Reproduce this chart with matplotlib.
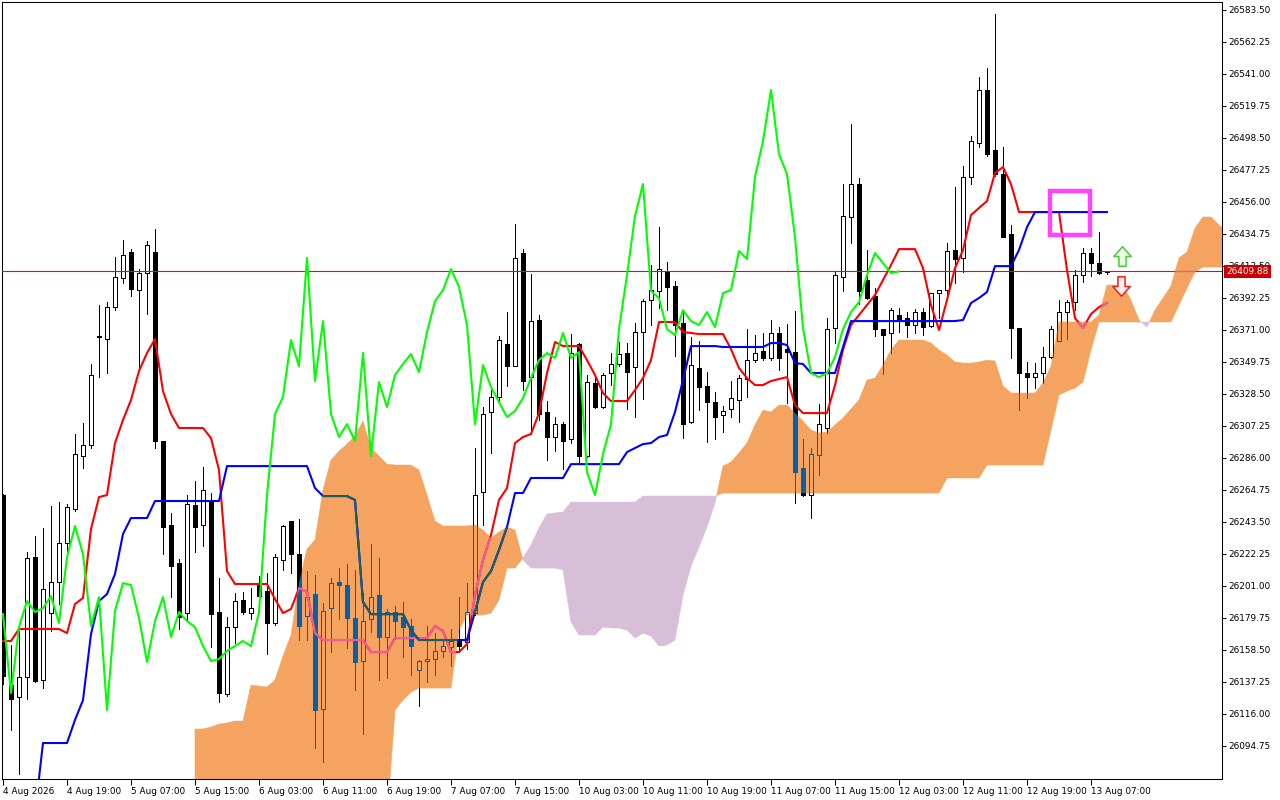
import numpy as np
import matplotlib
matplotlib.use("Agg")
import matplotlib.pyplot as plt
from matplotlib.collections import LineCollection, PolyCollection
from matplotlib.path import Path
from matplotlib.patches import Rectangle
from matplotlib.colors import to_rgba

plt.rcParams['font.family'] = ['DejaVu Sans']

# ---------------- data ----------------
x_labels = ["4 Aug 2026", "4 Aug 19:00", "5 Aug 07:00", "5 Aug 15:00", "6 Aug 03:00",
            "6 Aug 11:00", "6 Aug 19:00", "7 Aug 07:00", "7 Aug 15:00", "10 Aug 03:00",
            "10 Aug 11:00", "10 Aug 19:00", "11 Aug 07:00", "11 Aug 15:00", "12 Aug 03:00",
            "12 Aug 11:00", "12 Aug 19:00", "13 Aug 07:00"]

y_tick_values = [26583.50, 26562.25, 26541.00, 26519.75, 26498.50, 26477.25, 26456.00,
                 26434.75, 26413.50, 26392.25, 26371.00, 26349.75, 26328.50, 26307.25,
                 26286.00, 26264.75, 26243.50, 26222.25, 26201.00, 26179.75, 26158.50,
                 26137.25, 26116.00, 26094.75]

opens = [
    26261.4, 26135.2, 26127.2, 26140.5, 26220.2, 26138.5, 26183.0, 26203.6, 26229.5, 26252.1,
    26287.3, 26294.6, 26366.3, 26365.0, 26386.2, 26405.5, 26422.7, 26397.5, 26408.8, 26422.7,
    26297.2, 26241.5, 26216.2, 26183.0, 26254.7, 26241.5, 26256.7, 26183.7, 26129.2, 26173.7,
    26191.6, 26183.0, 26201.6, 26197.6, 26176.4, 26218.2, 26244.1, 26222.2, 26181.0, 26195.6,
    26119.3, 26186.3, 26203.6, 26201.6, 26179.7, 26151.1, 26179.0, 26195.0, 26167.1, 26183.7,
    26180.4, 26174.4, 26145.2, 26151.1, 26152.5, 26157.8, 26160.4, 26164.4, 26163.8, 26183.0,
    26263.4, 26316.5, 26326.5, 26361.7, 26347.0, 26422.1, 26339.7, 26377.6, 26316.5, 26299.9,
    26308.5, 26298.6, 26361.7, 26287.3, 26335.8, 26319.8, 26342.4, 26348.4, 26355.7, 26346.4,
    26369.6, 26390.9, 26396.9, 26410.1, 26400.2, 26375.6, 26309.8, 26345.7, 26333.8, 26323.1,
    26314.5, 26318.5, 26324.5, 26338.4, 26351.0, 26357.0, 26352.4, 26369.0, 26358.3, 26356.3,
    26279.3, 26261.4, 26287.9, 26305.9, 26372.3, 26406.1, 26446.0, 26467.9, 26404.5, 26393.5,
    26371.6, 26368.9, 26380.9, 26378.9, 26374.3, 26382.9, 26373.6, 26395.5, 26397.5, 26424.1,
    26418.8, 26472.6, 26495.1, 26530.3, 26490.5, 26474.5, 26434.7, 26372.3, 26342.4, 26339.7,
    26342.4, 26353.0, 26363.6, 26382.9, 26389.5, 26407.5, 26422.1, 26415.4, 26409.5]

highs = [
    26262.1, 26161.8, 26171.1, 26223.5, 26234.2, 26239.5, 26254.1, 26256.7, 26255.4, 26301.9,
    26309.2, 26348.4, 26387.6, 26389.5, 26419.4, 26430.7, 26424.7, 26411.5, 26430.0, 26438.0,
    26297.2, 26249.4, 26218.9, 26261.4, 26270.7, 26279.9, 26262.7, 26206.3, 26180.4, 26196.3,
    26196.9, 26199.6, 26207.6, 26209.6, 26222.2, 26241.5, 26244.1, 26245.4, 26210.9, 26208.2,
    26189.6, 26206.3, 26212.9, 26215.5, 26211.6, 26196.3, 26228.8, 26219.5, 26185.7, 26187.7,
    26190.3, 26179.0, 26151.6, 26174.4, 26169.7, 26165.7, 26172.4, 26193.6, 26202.9, 26292.6,
    26319.8, 26331.1, 26367.0, 26382.9, 26441.3, 26424.7, 26408.1, 26380.9, 26323.8, 26313.2,
    26309.8, 26368.3, 26362.3, 26341.1, 26341.1, 26342.4, 26355.7, 26363.0, 26362.3, 26375.6,
    26391.5, 26414.1, 26439.3, 26416.1, 26403.5, 26382.9, 26366.3, 26363.6, 26343.1, 26329.8,
    26320.5, 26337.1, 26341.1, 26371.6, 26367.6, 26369.0, 26377.6, 26372.9, 26374.9, 26383.6,
    26298.6, 26292.6, 26321.8, 26378.9, 26410.1, 26467.9, 26507.8, 26471.9, 26424.1, 26398.9,
    26371.6, 26385.6, 26385.6, 26382.9, 26384.9, 26385.6, 26395.5, 26397.5, 26428.7, 26465.9,
    26479.9, 26499.8, 26539.0, 26544.9, 26580.8, 26492.5, 26440.7, 26372.3, 26349.7, 26349.0,
    26359.7, 26373.6, 26390.9, 26390.9, 26410.8, 26425.4, 26425.4, 26436.0, 26410.1]

lows = [
    26135.9, 26105.3, 26076.1, 26125.9, 26137.2, 26133.2, 26171.1, 26189.0, 26223.5, 26250.8,
    26279.3, 26292.6, 26339.8, 26342.4, 26384.2, 26402.2, 26393.5, 26343.7, 26381.6, 26292.6,
    26222.2, 26193.6, 26172.4, 26178.4, 26223.5, 26227.5, 26160.4, 26123.9, 26127.9, 26163.1,
    26182.3, 26179.0, 26187.0, 26155.8, 26175.0, 26211.6, 26209.6, 26165.1, 26165.1, 26093.4,
    26084.1, 26157.1, 26179.0, 26159.8, 26131.9, 26102.7, 26170.4, 26138.5, 26139.9, 26165.7,
    26153.8, 26141.8, 26121.2, 26137.2, 26141.8, 26153.8, 26147.8, 26157.1, 26159.1, 26181.7,
    26241.5, 26289.3, 26324.5, 26333.8, 26347.0, 26331.1, 26301.9, 26311.2, 26284.6, 26290.6,
    26278.6, 26295.9, 26283.3, 26286.6, 26319.2, 26319.2, 26334.4, 26347.0, 26318.5, 26313.2,
    26325.1, 26374.3, 26385.6, 26384.2, 26353.7, 26299.2, 26309.2, 26317.8, 26296.6, 26298.6,
    26303.2, 26313.2, 26309.8, 26326.5, 26349.7, 26351.0, 26351.0, 26344.4, 26322.5, 26256.1,
    26260.7, 26246.1, 26274.7, 26302.5, 26362.3, 26396.9, 26428.7, 26388.2, 26391.5, 26367.0,
    26341.7, 26355.7, 26369.6, 26366.3, 26369.0, 26367.6, 26372.9, 26378.9, 26392.9, 26402.2,
    26409.5, 26467.9, 26492.5, 26486.5, 26473.2, 26432.7, 26352.4, 26317.8, 26325.8, 26332.4,
    26335.8, 26352.4, 26363.6, 26365.0, 26384.2, 26402.8, 26406.8, 26408.1, 26408.1]

closes = [
    26141.2, 26125.9, 26140.5, 26219.5, 26137.9, 26198.9, 26203.6, 26229.5, 26253.4, 26288.6,
    26294.6, 26341.1, 26367.0, 26386.2, 26406.1, 26420.8, 26398.2, 26408.8, 26427.4, 26297.2,
    26240.1, 26214.2, 26180.4, 26255.4, 26240.1, 26264.7, 26182.3, 26129.9, 26173.7, 26191.0,
    26183.7, 26186.3, 26194.3, 26176.4, 26220.2, 26240.8, 26222.2, 26174.4, 26193.6, 26118.6,
    26184.3, 26202.9, 26201.6, 26179.7, 26150.5, 26177.7, 26193.6, 26167.1, 26183.7, 26177.7,
    26173.7, 26161.1, 26151.1, 26152.5, 26157.8, 26161.1, 26164.4, 26161.1, 26183.7, 26261.4,
    26315.2, 26326.5, 26364.3, 26347.0, 26418.8, 26337.1, 26376.9, 26315.2, 26299.9, 26308.5,
    26297.2, 26355.7, 26287.3, 26336.4, 26319.8, 26341.1, 26348.4, 26355.0, 26343.1, 26369.6,
    26390.2, 26397.5, 26411.5, 26399.5, 26374.3, 26308.5, 26347.7, 26333.1, 26323.1, 26313.2,
    26317.2, 26325.8, 26339.1, 26351.0, 26355.7, 26352.4, 26369.0, 26352.4, 26356.3, 26276.6,
    26261.4, 26288.6, 26308.5, 26371.6, 26407.5, 26446.7, 26467.9, 26396.9, 26392.2, 26371.6,
    26367.6, 26384.2, 26376.9, 26374.3, 26382.9, 26372.9, 26395.5, 26397.5, 26423.4, 26418.1,
    26472.6, 26496.5, 26530.3, 26487.8, 26474.5, 26432.7, 26372.3, 26342.4, 26339.7, 26342.4,
    26353.0, 26371.6, 26382.9, 26389.5, 26407.5, 26422.1, 26415.4, 26408.8, 26409.88]

tenkan = [
    26164.4, 26164.4, 26172.4, 26172.4, 26172.4, 26172.4, 26172.4, 26172.4, 26169.7, 26189.0,
    26193.0, 26238.8, 26260.0, 26261.4, 26295.9, 26311.2, 26324.5, 26343.7, 26355.7, 26365.0,
    26330.4, 26315.2, 26305.9, 26305.9, 26305.9, 26305.9, 26299.2, 26278.0, 26210.9, 26202.3,
    26202.3, 26202.3, 26202.3, 26202.3, 26192.3, 26183.0, 26185.7, 26199.6, 26197.0, 26169.7,
    26165.1, 26165.1, 26165.1, 26165.1, 26165.1, 26165.1, 26157.1, 26157.1, 26157.1, 26166.4,
    26166.4, 26166.4, 26166.4, 26166.4, 26174.4, 26171.1, 26157.1, 26157.1, 26162.4, 26195.0,
    26218.2, 26234.8, 26258.1, 26266.0, 26295.9, 26299.9, 26301.9, 26315.8, 26342.4, 26363.0,
    26360.3, 26360.3, 26360.3, 26351.0, 26341.1, 26329.1, 26323.8, 26323.8, 26323.8, 26331.1,
    26339.1, 26351.0, 26376.3, 26376.3, 26376.3, 26369.6, 26369.0, 26368.3, 26368.3, 26368.3,
    26368.3, 26358.3, 26345.7, 26339.1, 26334.4, 26334.4, 26337.1, 26338.4, 26339.7, 26321.1,
    26315.8, 26315.8, 26315.8, 26315.8, 26334.4, 26357.7, 26374.3, 26380.9, 26387.6, 26394.2,
    26404.2, 26414.1, 26424.7, 26424.7, 26424.7, 26412.1, 26387.6, 26371.0, 26390.9, 26412.1,
    26424.1, 26447.3, 26452.0, 26456.6, 26475.2, 26479.2, 26467.9, 26449.3, 26449.3, 26449.3,
    26449.3, 26449.3, 26449.3, 26410.8, 26378.9, 26372.3, 26381.6, 26386.2, 26388.9]

kijun = [
    26050.2, 26050.2, 26050.2, 26050.2, 26050.2, 26096.7, 26096.7, 26096.7, 26096.7, 26112.0,
    26125.2, 26169.1, 26191.0, 26195.6, 26208.9, 26235.5, 26246.1, 26246.1, 26246.1, 26257.4,
    26257.4, 26257.4, 26257.4, 26257.4, 26257.4, 26257.4, 26257.4, 26257.4, 26280.6, 26280.6,
    26280.6, 26280.6, 26280.6, 26280.6, 26280.6, 26280.6, 26280.6, 26280.6, 26280.6, 26266.0,
    26260.7, 26260.7, 26260.7, 26260.7, 26258.1, 26190.3, 26182.3, 26182.3, 26182.3, 26182.3,
    26182.3, 26171.7, 26165.1, 26165.1, 26165.1, 26165.1, 26165.1, 26165.1, 26165.1, 26183.7,
    26203.6, 26210.9, 26224.9, 26240.1, 26262.7, 26262.7, 26272.7, 26272.7, 26272.7, 26272.7,
    26272.7, 26281.9, 26281.9, 26281.9, 26281.9, 26281.9, 26281.9, 26281.9, 26289.9, 26292.6,
    26295.2, 26295.9, 26299.9, 26301.2, 26316.5, 26337.7, 26360.3, 26360.3, 26360.3, 26360.3,
    26359.7, 26359.7, 26359.7, 26359.7, 26359.7, 26359.7, 26362.3, 26362.3, 26361.0, 26349.0,
    26348.4, 26342.4, 26342.4, 26342.4, 26342.4, 26359.7, 26376.9, 26376.9, 26376.9, 26376.9,
    26376.9, 26376.9, 26376.9, 26376.9, 26376.9, 26376.9, 26376.9, 26376.9, 26376.9, 26376.9,
    26377.6, 26388.9, 26392.2, 26396.2, 26413.4, 26413.4, 26413.4, 26424.1, 26439.3, 26449.3,
    26449.3, 26449.3, 26449.3, 26449.3, 26449.3, 26449.3, 26449.3, 26449.3, 26449.3]

cloud_start_bar = 24
span_a = [
    26106.0, 26106.0, 26107.3, 26109.3, 26110.0, 26111.3, 26111.3, 26135.2, 26134.5, 26133.9,
    26138.5, 26154.5, 26168.4, 26202.9, 26225.5, 26231.5, 26264.7, 26284.6, 26290.6, 26295.2,
    26300.6, 26310.5, 26292.6, 26287.3, 26281.9, 26281.3, 26281.3, 26281.3, 26278.0, 26261.4,
    26244.1, 26240.8, 26240.8, 26240.8, 26240.8, 26241.5, 26238.1, 26232.8, 26236.8, 26240.1,
    26238.1, 26218.2, 26212.9, 26212.9, 26212.9, 26212.9, 26211.6, 26177.0, 26168.4, 26168.4,
    26168.4, 26173.7, 26173.1, 26173.1, 26171.7, 26166.4, 26169.7, 26167.7, 26161.1, 26161.8,
    26165.1, 26195.0, 26214.2, 26226.8, 26240.1, 26256.1, 26280.6, 26283.3, 26289.3, 26295.9,
    26307.9, 26317.8, 26316.5, 26321.1, 26321.1, 26315.8, 26310.5, 26304.5, 26302.5, 26303.2,
    26307.9, 26312.5, 26318.5, 26324.5, 26337.7, 26339.1, 26347.7, 26357.7, 26364.3, 26364.3,
    26364.3, 26364.3, 26362.3, 26357.7, 26354.4, 26349.7, 26349.0, 26349.0, 26349.7, 26351.0,
    26350.4, 26333.8, 26329.1, 26329.1, 26329.1, 26329.1, 26335.8, 26347.0, 26376.3, 26376.3,
    26376.3, 26376.3, 26376.3, 26380.9, 26400.8, 26400.8, 26400.2, 26390.9, 26377.6, 26372.9,
    26384.2, 26392.2, 26400.2, 26418.8, 26422.7, 26438.7, 26446.0, 26446.0, 26440.7, 26436.0]

span_b = [
    26045.6, 26045.6, 26045.6, 26045.6, 26045.6, 26045.6, 26045.6, 26045.6, 26045.6, 26045.6,
    26045.6, 26045.6, 26045.6, 26045.6, 26045.6, 26045.6, 26045.6, 26045.6, 26045.6, 26045.6,
    26045.6, 26045.6, 26045.6, 26045.6, 26045.6, 26118.6, 26125.2, 26130.5, 26133.2, 26133.2,
    26133.2, 26133.2, 26133.2, 26171.7, 26181.7, 26181.7, 26181.7, 26183.0, 26191.6, 26212.9,
    26212.9, 26219.5, 26228.2, 26239.5, 26248.8, 26249.4, 26250.1, 26256.7, 26256.7, 26256.7,
    26256.7, 26256.7, 26256.7, 26256.7, 26256.7, 26256.7, 26260.7, 26260.7, 26260.7, 26260.7,
    26260.7, 26260.7, 26260.7, 26260.7, 26260.7, 26260.7, 26262.7, 26262.7, 26262.7, 26262.7,
    26262.7, 26262.7, 26262.7, 26262.7, 26262.7, 26262.7, 26262.7, 26262.7, 26262.7, 26262.7,
    26262.7, 26262.7, 26262.7, 26262.7, 26262.7, 26262.7, 26262.7, 26262.7, 26262.7, 26262.7,
    26262.7, 26262.7, 26262.7, 26262.7, 26272.7, 26272.7, 26272.7, 26272.7, 26272.7, 26281.3,
    26281.3, 26281.3, 26281.3, 26281.3, 26281.3, 26281.3, 26281.3, 26304.5, 26327.8, 26330.4,
    26332.4, 26336.4, 26357.7, 26376.3, 26376.3, 26376.3, 26376.3, 26376.3, 26376.3, 26376.3,
    26376.3, 26376.3, 26376.3, 26387.6, 26398.9, 26409.5, 26412.8, 26412.8, 26412.8, 26412.8]

chikou_shift = 26
last_price = 26409.88

# annotations (bar index / price)
box_bar0, box_bar1 = 130.9, 135.9
box_p0, box_p1 = 26434.0, 26463.6
up_arrow_at = (139.9, 26420.0)
down_arrow_at = (139.8, 26400.5)

# ---------------- figure ----------------
fig = plt.figure(figsize=(12.8, 8), dpi=100)
fig.patch.set_facecolor('white')
ax = fig.add_axes([2 / 1280, 21 / 800, 1220 / 1280, 777 / 800])
ax.set_facecolor('white')

o = np.array(opens); h = np.array(highs); l = np.array(lows); c = np.array(closes)
n = len(o)
idx = np.arange(n)

# cloud
cx = np.arange(cloud_start_bar, cloud_start_bar + len(span_a))
sa = np.array(span_a); sb = np.array(span_b)
up_cloud = ax.fill_between(cx, sa, sb, where=sa >= sb, interpolate=True,
                           facecolor='#F4A460', edgecolor='#F4A460', linewidth=0.4, zorder=1)
dn_cloud = ax.fill_between(cx, sa, sb, where=sa < sb, interpolate=True,
                           facecolor='#D8BFD8', edgecolor='#D8BFD8', linewidth=0.4, zorder=1)
cloud_path = Path.make_compound_path(*(list(up_cloud.get_paths()) + list(dn_cloud.get_paths())))

# candles: bodies as explicit outline rectangles (hollow for rising bars)
w = 0.56
top = np.maximum(o, c); bot = np.minimum(o, c)
is_bull = c >= o
wick_segs = [[(i, h[i]), (i, top[i])] for i in idx] + [[(i, bot[i]), (i, l[i])] for i in idx]
body_verts = [[(i - w / 2, bot[i]), (i + w / 2, bot[i]), (i + w / 2, top[i]), (i - w / 2, top[i])]
              for i in idx]
outline_segs = [[(i - w / 2, bot[i]), (i + w / 2, bot[i]), (i + w / 2, top[i]),
                 (i - w / 2, top[i]), (i - w / 2, bot[i])] for i in idx]
bear_verts = [body_verts[i] for i in idx if not is_bull[i]]


def draw_candles(color, z, clip=None):
    rgba = to_rgba(color)
    wl = LineCollection(wick_segs + outline_segs, colors=[rgba], linewidths=0.72, zorder=z,
                        antialiaseds=False)
    bd = PolyCollection(bear_verts, facecolors=[rgba], edgecolors='none', zorder=z,
                        antialiaseds=False)
    ax.add_collection(bd)
    ax.add_collection(wl)
    if clip is not None:
        wl.set_clip_path(clip, ax.transData)
        bd.set_clip_path(clip, ax.transData)


draw_candles('black', 2)
draw_candles('#0C5FA0', 2.2, cloud_path)


def draw_line(xv, yv, color, tint, z, lw=1.5):
    ax.plot(xv, yv, color=color, lw=lw, zorder=z)
    if tint is not None:
        ln, = ax.plot(xv, yv, color=tint, lw=lw, zorder=z + 0.05)
        ln.set_clip_path(cloud_path, ax.transData)


# current price line
draw_line([-1, 200], [last_price, last_price], '#FF0000', '#B46EB8', 2.6, lw=0.8)
# tenkan / kijun
draw_line(idx, tenkan, '#FF0000', '#EE5C9C', 3.0)
draw_line(idx, kijun, '#0000FF', '#1E5E5E', 3.2)
# chikou (closes shifted back)
ax.plot(idx[:n - chikou_shift], c[chikou_shift:], color='#00FF00', lw=1.5, zorder=3.4)

# highlight box
ax.add_patch(Rectangle((box_bar0, box_p0), box_bar1 - box_bar0, box_p1 - box_p0, fill=False,
                       edgecolor='#FF44FF', linewidth=3.2, joinstyle='miter', zorder=6))

# arrows
up_path = Path([(-3.5, -9.5), (3.5, -9.5), (3.5, 0), (8.5, 0), (0, 9.5), (-8.5, 0), (-3.5, 0),
                (-3.5, -9.5)],
               [Path.MOVETO] + [Path.LINETO] * 6 + [Path.CLOSEPOLY])
dn_path = Path([(-3.5, 9.5), (3.5, 9.5), (3.5, 0), (8.5, 0), (0, -9.5), (-8.5, 0), (-3.5, 0),
                (-3.5, 9.5)],
               [Path.MOVETO] + [Path.LINETO] * 6 + [Path.CLOSEPOLY])
ax.plot([up_arrow_at[0]], [up_arrow_at[1]], marker=up_path, markersize=14, linestyle='none',
        markerfacecolor='#F2FFE8', markeredgecolor='#45CF3A', markeredgewidth=1.1, zorder=7)
ax.plot([down_arrow_at[0]], [down_arrow_at[1]], marker=dn_path, markersize=14, linestyle='none',
        markerfacecolor='#FFF0F0', markeredgecolor='#F02020', markeredgewidth=1.1, zorder=7)

# axes
ax.set_xlim(-0.125, 152.375)
ax.set_ylim(26072.8, 26588.8)
ax.yaxis.tick_right()
ax.set_yticks(y_tick_values)
ax.set_yticklabels([f'{v:.2f}' for v in y_tick_values])
ax.set_xticks(np.arange(0, 8 * len(x_labels), 8))
ax.set_xticklabels(x_labels, ha='left')
ax.tick_params(axis='both', labelsize=6.4, colors='black', width=0.75, direction='out')
ax.tick_params(axis='y', length=3, pad=1.5)
ax.tick_params(axis='x', length=4, pad=2)
for s in ax.spines.values():
    s.set_linewidth(0.75)
    s.set_color('black')

ax.text(1.0035, last_price, f'{last_price:.2f}', transform=ax.get_yaxis_transform(),
        color='white', fontsize=6.4, va='center', ha='left', zorder=20, clip_on=False,
        bbox=dict(boxstyle='square,pad=0.22', facecolor='#CC0000', edgecolor='none'))

fig.savefig('out.png', dpi=100, facecolor='white')
